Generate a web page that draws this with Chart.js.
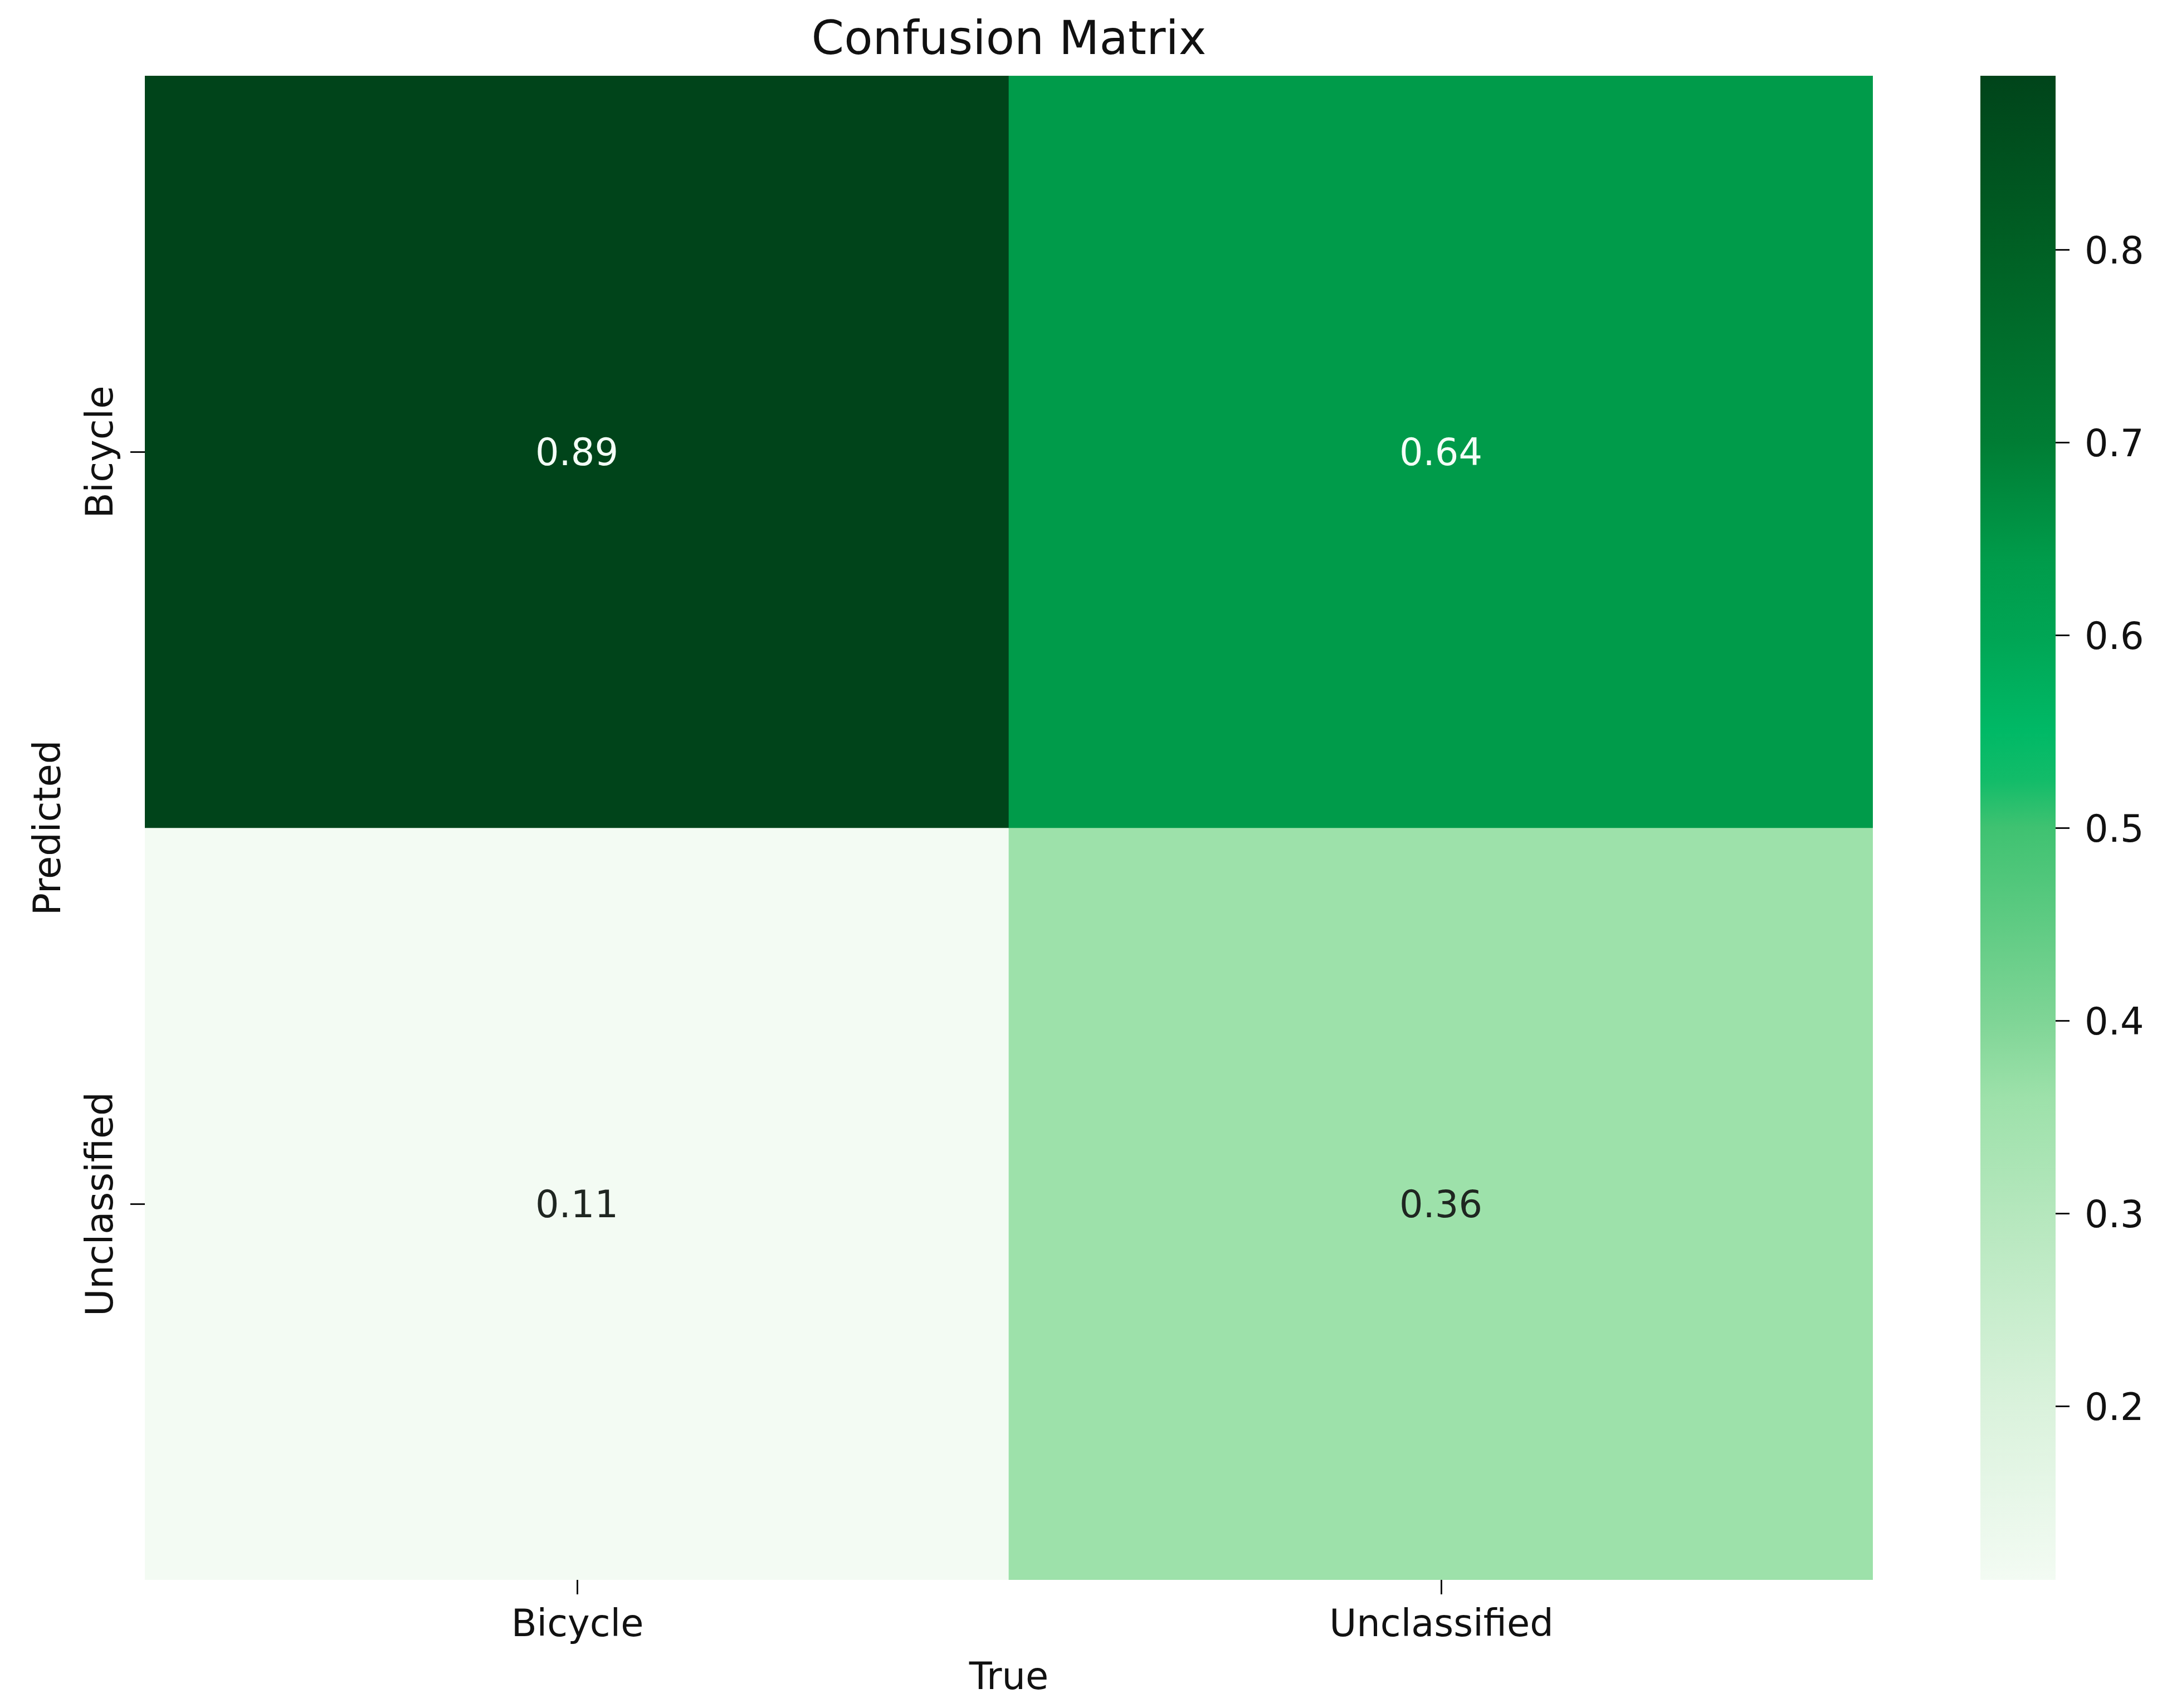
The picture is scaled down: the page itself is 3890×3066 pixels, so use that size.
<!DOCTYPE html>
<html>
<head>
<meta charset="utf-8">
<title>Confusion Matrix</title>
<script src="https://cdn.jsdelivr.net/npm/chart.js@4.4.1/dist/chart.umd.min.js"></script>
<style>
    html, body { margin: 0; padding: 0; background: #ffffff; }
    #wrap { position: relative; width: 3890px; height: 3066px; }
    #wrap canvas { position: absolute; top: 0; }
    #matrixChart { left: 0; }
    #colorbarChart { left: 3500px; }
</style>
</head>
<body>
<div id="wrap">
    <canvas id="matrixChart" width="3890" height="3066"></canvas>
    <canvas id="colorbarChart" width="390" height="3066"></canvas>
</div>
<script>
// Data
const trueLabels = ['Bicycle', 'Unclassified'];      // columns (x)
const predictedLabels = ['Bicycle', 'Unclassified']; // rows, top to bottom (y)
const row0Values = [0.89, 0.64];
const row1Values = [0.11, 0.36];
const colorbarTicks = [0.2, 0.3, 0.4, 0.5, 0.6, 0.7, 0.8];

const matrixRows = [row0Values, row1Values];
const allValues = matrixRows.flat();
const vMin = Math.min(...allValues);
const vMax = Math.max(...allValues);

// Colormap sampled from the colorbar (value -> colour)
const cmapStops = [
    [0.11, '#f3fbf3'],
    [0.15, '#e8f7e9'],
    [0.20, '#daf2dc'],
    [0.25, '#c8edcd'],
    [0.30, '#b5e7bd'],
    [0.36, '#9de1aa'],
    [0.40, '#7fd596'],
    [0.45, '#5fcb83'],
    [0.50, '#3fc271'],
    [0.525, '#12bc69'],
    [0.55, '#00b966'],
    [0.60, '#00a554'],
    [0.64, '#009b4a'],
    [0.70, '#007d34'],
    [0.80, '#006024'],
    [0.89, '#00441a']
];

const FONT = "'DejaVu Sans', sans-serif";
const INK = '#111111';

function hexToRgb(h) {
    return [parseInt(h.slice(1, 3), 16), parseInt(h.slice(3, 5), 16), parseInt(h.slice(5, 7), 16)];
}

function cmap(v) {
    if (v <= cmapStops[0][0]) return cmapStops[0][1];
    for (let i = 1; i < cmapStops.length; i++) {
        if (v <= cmapStops[i][0]) {
            const [v0, c0] = cmapStops[i - 1];
            const [v1, c1] = cmapStops[i];
            const t = (v - v0) / (v1 - v0);
            const a = hexToRgb(c0), b = hexToRgb(c1);
            const m = a.map((x, k) => Math.round(x + (b[k] - x) * t));
            return `rgb(${m[0]},${m[1]},${m[2]})`;
        }
    }
    return cmapStops[cmapStops.length - 1][1];
}

// Each row is a dataset of floating bars spanning one unit of the y scale
const nRows = predictedLabels.length;
const matrixDatasets = matrixRows.map((vals, r) => ({
    label: predictedLabels[r],
    data: vals.map(() => [nRows - r - 1, nRows - r]),
    backgroundColor: vals.map(v => cmap(v)),
    borderWidth: 0,
    barPercentage: 1,
    categoryPercentage: 1,
    grouped: false
}));

const matrixTextPlugin = {
    id: 'matrixText',
    afterDraw(chart) {
        const ctx = chart.ctx;
        const xs = chart.scales.x;
        const ys = chart.scales.y;
        const area = chart.chartArea;
        const tickLen = 26;
        ctx.save();

        // cell annotations
        ctx.font = `67px ${FONT}`;
        ctx.textAlign = 'center';
        ctx.textBaseline = 'alphabetic';
        matrixRows.forEach((vals, r) => {
            vals.forEach((v, c) => {
                const px = xs.getPixelForValue(c);
                const py = ys.getPixelForValue(nRows - r - 0.5);
                const norm = (v - vMin) / (vMax - vMin);
                ctx.fillStyle = norm > 0.6 ? '#f4fff7' : '#1f2621';
                ctx.fillText(v.toFixed(2), px, py + 24);
            });
        });

        ctx.strokeStyle = INK;
        ctx.fillStyle = INK;
        ctx.lineWidth = 3;

        // x ticks + labels
        trueLabels.forEach((lab, c) => {
            const px = Math.round(xs.getPixelForValue(c)) + 0.5;
            ctx.beginPath();
            ctx.moveTo(px, area.bottom);
            ctx.lineTo(px, area.bottom + tickLen);
            ctx.stroke();
            ctx.fillText(lab, px, 2937);
        });

        // y ticks + rotated labels
        predictedLabels.forEach((lab, r) => {
            const py = Math.round(ys.getPixelForValue(nRows - r - 0.5)) + 0.5;
            ctx.beginPath();
            ctx.moveTo(area.left - tickLen, py);
            ctx.lineTo(area.left, py);
            ctx.stroke();
            ctx.save();
            ctx.translate(202, py);
            ctx.rotate(-Math.PI / 2);
            ctx.fillText(lab, 0, 0);
            ctx.restore();
        });

        // axis titles
        const cx = (area.left + area.right) / 2;
        const cy = (area.top + area.bottom) / 2;
        ctx.fillText('True', cx, 3032);
        ctx.save();
        ctx.translate(108, cy);
        ctx.rotate(-Math.PI / 2);
        ctx.fillText('Predicted', 0, 0);
        ctx.restore();

        // title
        ctx.font = `84px ${FONT}`;
        ctx.fillText('Confusion Matrix', cx, 97);
        ctx.restore();
    }
};

new Chart(document.getElementById('matrixChart'), {
    type: 'bar',
    data: { labels: trueLabels, datasets: matrixDatasets },
    options: {
        responsive: false,
        animation: false,
        layout: { padding: { left: 260, top: 136, right: 528, bottom: 230 } },
        plugins: { legend: { display: false }, title: { display: false }, tooltip: { enabled: false } },
        scales: {
            x: { type: 'category', display: false, offset: true },
            y: { type: 'linear', display: false, min: 0, max: nRows }
        }
    },
    plugins: [matrixTextPlugin]
});

// Colourbar: one floating bar from vMin to vMax filled with the colormap
function colorbarFill(context) {
    const chart = context.chart;
    const area = chart.chartArea;
    if (!area) return cmap(vMax);
    const ys = chart.scales.y;
    const y0 = ys.getPixelForValue(vMin);
    const y1 = ys.getPixelForValue(vMax);
    const grad = chart.ctx.createLinearGradient(0, y0, 0, y1);
    cmapStops.forEach(([v, col]) => {
        const t = (v - vMin) / (vMax - vMin);
        grad.addColorStop(Math.min(1, Math.max(0, t)), col);
    });
    return grad;
}

const colorbarTickPlugin = {
    id: 'colorbarTicks',
    afterDraw(chart) {
        const ctx = chart.ctx;
        const ys = chart.scales.y;
        const area = chart.chartArea;
        ctx.save();
        ctx.strokeStyle = INK;
        ctx.fillStyle = INK;
        ctx.lineWidth = 3;
        ctx.font = `67px ${FONT}`;
        ctx.textAlign = 'left';
        ctx.textBaseline = 'alphabetic';
        colorbarTicks.forEach(t => {
            const py = Math.round(ys.getPixelForValue(t)) + 0.5;
            ctx.beginPath();
            ctx.moveTo(area.right, py);
            ctx.lineTo(area.right + 25, py);
            ctx.stroke();
            ctx.fillText(t.toFixed(1), area.right + 52, py + 24);
        });
        ctx.restore();
    }
};

new Chart(document.getElementById('colorbarChart'), {
    type: 'bar',
    data: {
        labels: ['scale'],
        datasets: [{
            data: [[vMin, vMax]],
            backgroundColor: colorbarFill,
            borderWidth: 0,
            barPercentage: 1,
            categoryPercentage: 1
        }]
    },
    options: {
        responsive: false,
        animation: false,
        layout: { padding: { left: 55, top: 136, right: 200, bottom: 230 } },
        plugins: { legend: { display: false }, tooltip: { enabled: false } },
        scales: {
            x: { type: 'category', display: false, offset: true },
            y: { type: 'linear', display: false, min: vMin, max: vMax }
        }
    },
    plugins: [colorbarTickPlugin]
});
</script>
</body>
</html>
